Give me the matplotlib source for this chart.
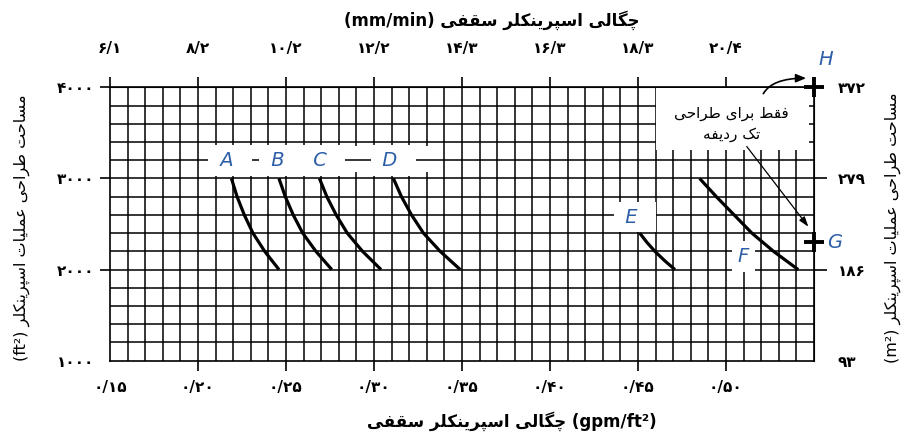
import matplotlib
matplotlib.use("Agg")
import matplotlib.pyplot as plt
from matplotlib.patches import Rectangle
import numpy as np

# ---- data ----
gpm_ticks = [0.15, 0.20, 0.25, 0.30, 0.35, 0.40, 0.45, 0.50]
gpm_labels = ["۰/۱۵", "۰/۲۰", "۰/۲۵", "۰/۳۰", "۰/۳۵", "۰/۴۰", "۰/۴۵", "۰/۵۰"]
mm_labels = ["۶/۱", "۸/۲", "۱۰/۲", "۱۲/۲", "۱۴/۳", "۱۶/۳", "۱۸/۳", "۲۰/۴"]
area_ticks = [1000, 2000, 3000, 4000]
ft2_labels = ["۱۰۰۰", "۲۰۰۰", "۳۰۰۰", "۴۰۰۰"]
m2_labels = ["۹۳", "۱۸۶", "۲۷۹", "۳۷۲"]

curve_names = ["A", "B", "C", "D", "E", "F"]
curve_area = [
    [3000, 2800, 2600, 2400, 2200, 2000],
    [3000, 2800, 2600, 2400, 2200, 2000],
    [3000, 2800, 2600, 2400, 2200, 2000],
    [3000, 2800, 2600, 2400, 2200, 2000],
    [2400, 2300, 2200, 2100, 2000],
    [3000, 2800, 2600, 2400, 2200, 2000],
]
curve_density = [
    [0.2190, 0.2222, 0.2263, 0.2312, 0.2379, 0.2460],
    [0.2460, 0.2496, 0.2541, 0.2595, 0.2670, 0.2760],
    [0.2690, 0.2732, 0.2785, 0.2848, 0.2935, 0.3040],
    [0.3110, 0.3156, 0.3213, 0.3281, 0.3376, 0.3490],
    [0.4510, 0.4550, 0.4596, 0.4650, 0.4710],
    [0.4850, 0.4945, 0.5046, 0.5147, 0.5270, 0.5410],
]

point_names = ["G", "H"]
point_density = [0.55, 0.55]
point_area = [2300, 4000]

# ---- simple Persian shaping (presentation forms + visual order) ----
FORMS = {
    "ا": ("\uFE8D", "\uFE8E", None, None),
    "ب": ("\uFE8F", "\uFE90", "\uFE91", "\uFE92"),
    "پ": ("\uFB56", "\uFB57", "\uFB58", "\uFB59"),
    "ت": ("\uFE95", "\uFE96", "\uFE97", "\uFE98"),
    "چ": ("\uFB7A", "\uFB7B", "\uFB7C", "\uFB7D"),
    "ح": ("\uFEA1", "\uFEA2", "\uFEA3", "\uFEA4"),
    "د": ("\uFEA9", "\uFEAA", None, None),
    "ر": ("\uFEAD", "\uFEAE", None, None),
    "س": ("\uFEB1", "\uFEB2", "\uFEB3", "\uFEB4"),
    "ط": ("\uFEC1", "\uFEC2", "\uFEC3", "\uFEC4"),
    "ع": ("\uFEC9", "\uFECA", "\uFECB", "\uFECC"),
    "ف": ("\uFED1", "\uFED2", "\uFED3", "\uFED4"),
    "ق": ("\uFED5", "\uFED6", "\uFED7", "\uFED8"),
    "ک": ("\uFB8E", "\uFB8F", "\uFB90", "\uFB91"),
    "گ": ("\uFB92", "\uFB93", "\uFB94", "\uFB95"),
    "ل": ("\uFEDD", "\uFEDE", "\uFEDF", "\uFEE0"),
    "م": ("\uFEE1", "\uFEE2", "\uFEE3", "\uFEE4"),
    "ن": ("\uFEE5", "\uFEE6", "\uFEE7", "\uFEE8"),
    "ه": ("\uFEE9", "\uFEEA", "\uFEEB", "\uFEEC"),
    "و": ("\uFEED", "\uFEEE", None, None),
    "ی": ("\uFBFC", "\uFBFD", "\uFBFE", "\uFBFF"),
}


def shape(word):
    out = []
    for i, ch in enumerate(word):
        f = FORMS.get(ch)
        if f is None:
            out.append(ch)
            continue
        prev = word[i - 1] if i > 0 else ""
        nxt = word[i + 1] if i + 1 < len(word) else ""
        jp = prev in FORMS and FORMS[prev][2] is not None
        jn = f[2] is not None and nxt in FORMS
        if jp and jn:
            out.append(f[3])
        elif jp:
            out.append(f[1])
        elif jn:
            out.append(f[2])
        else:
            out.append(f[0])
    return "".join(out)


def fa(text):
    # shaped glyphs in left-to-right visual order
    return shape(text)[::-1]


plt.rcParams["font.family"] = ["DejaVu Sans"]
BLUE = "#2c5ea8"

fig = plt.figure(figsize=(9.07, 4.41), dpi=100)
ax = fig.add_axes([110 / 907, 1 - 360.7 / 441, 704 / 907, 273.4 / 441])
ax.set_xlim(0.15, 0.55)
ax.set_ylim(1000, 4000)
for s in ax.spines.values():
    s.set_linewidth(1.2)

# grid: 0.01 gpm/ft2 columns, 200 ft2 rows
ax.vlines(np.round(np.arange(0.16, 0.545, 0.01), 2), 1000, 4000, color="black", lw=1.1, zorder=1)
ax.hlines(np.arange(1200, 3900, 200), 0.15, 0.55, color="black", lw=1.1, zorder=1)

# white areas behind the labels and the note
ax.add_patch(Rectangle((0.2006, 3070), 0.1314, 290, facecolor="white", edgecolor="none", zorder=2))
ax.hlines(3200, 0.2006, 0.332, color="black", lw=1.1, zorder=2.5)
ax.add_patch(Rectangle((0.4605, 3310), 0.0865, 680, facecolor="white", edgecolor="none", zorder=2))

# curves
for name, d, a in zip(curve_names, curve_density, curve_area):
    ax.plot(d, a, color="black", lw=2.3, solid_capstyle="butt", solid_joinstyle="round", zorder=3)

letter_pos = {"A": (0.2182, 3195), "B": (0.2470, 3195), "C": (0.2712, 3195),
              "D": (0.3110, 3195), "E": (0.4483, 2575), "F": (0.5098, 2140)}
for name in curve_names:
    x, y = letter_pos[name]
    txt = name if name == "F" else " " + name + "  "
    ax.text(x, y, txt, color=BLUE, fontsize=14, style="italic", ha="center", va="center",
            zorder=4, bbox=dict(boxstyle="square,pad=0.3", fc="white", ec="none"))

# G / H points
ax.plot(point_density, point_area, ls="none", marker="+", ms=15, mew=2.8, color="black",
        clip_on=False, zorder=6)
ax.text(0.5568, 4300, "H", color=BLUE, fontsize=14, style="italic", ha="center", va="center")
ax.text(0.5575, 2300, "G", color=BLUE, fontsize=14, style="italic", ha="left", va="center")

# note + arrows
ax.text(0.5032, 3715, fa("فقط برای طراحی"), fontsize=11, ha="center", va="center", zorder=5)
ax.text(0.5032, 3478, fa("تک ردیفه"), fontsize=11, ha="center", va="center", zorder=5)
ax.annotate("", xy=(0.5455, 4100), xytext=(0.5212, 3930),
            arrowprops=dict(arrowstyle="-|>,head_length=0.6,head_width=0.25", lw=1.2, color="black",
                            connectionstyle="angle3,angleA=60,angleB=0", shrinkA=0, shrinkB=0),
            annotation_clip=False, zorder=5)
ax.annotate("", xy=(0.5468, 2470), xytext=(0.5118, 3350),
            arrowprops=dict(arrowstyle="-|>,head_length=0.6,head_width=0.2", lw=0.9, color="black",
                            shrinkA=0, shrinkB=0),
            zorder=5)

# bottom axis (gpm/ft2)
ax.set_xticks(gpm_ticks)
ax.set_xticklabels(gpm_labels, fontweight="bold")
ax.tick_params(axis="x", direction="out", length=7, width=1.2, pad=7, labelsize=11)
ax.xaxis.get_major_ticks()[0].tick1line.set_visible(False)

# left axis (ft2)
ax.set_yticks(area_ticks)
ax.set_yticklabels(ft2_labels, fontweight="bold")
ax.tick_params(axis="y", direction="out", length=7, width=1.2, pad=4, labelsize=11)
ax.yaxis.get_major_ticks()[0].tick1line.set_visible(False)

# top axis (mm/min)
top = ax.secondary_xaxis("top")
top.set_xticks(gpm_ticks, labels=mm_labels, fontweight="bold")
top.tick_params(direction="out", length=7.5, width=1.2, pad=15, labelsize=11)

# right axis (m2)
right = ax.secondary_yaxis("right")
right.set_yticks(area_ticks, labels=m2_labels, fontweight="bold")
right.tick_params(direction="out", length=9, width=1.2, pad=8, labelsize=11)
for i in (0, 3):
    right.yaxis.get_major_ticks()[i].tick2line.set_visible(False)

# axis titles
fig.text(492 / 907, 1 - 20 / 441, "(mm/min) " + fa("چگالی اسپرینکلر سقفی"),
         fontsize=12, fontweight="bold", ha="center", va="center")
fig.text(512 / 907, 1 - 421 / 441, fa("چگالی اسپرینکلر سقفی") + " (gpm/ft²)",
         fontsize=12, fontweight="bold", ha="center", va="center")
fig.text(22 / 907, 1 - 228 / 441, "(ft²) " + fa("مساحت طراحی عملیات اسپرینکلر"),
         fontsize=11.5, rotation=90, ha="center", va="center")
fig.text(893 / 907, 1 - 228 / 441, "(m²) " + fa("مساحت طراحی عملیات اسپرینکلر"),
         fontsize=11.5, rotation=90, ha="center", va="center")

fig.savefig("out.png", dpi=100)
